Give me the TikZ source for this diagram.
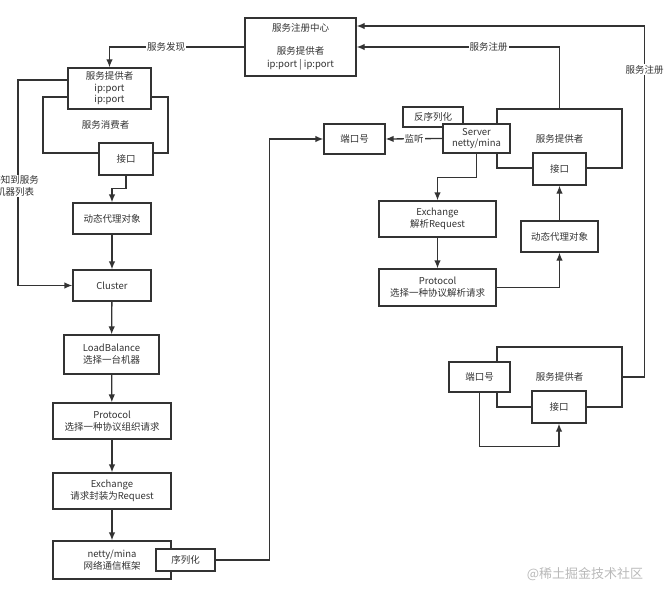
\documentclass[tikz,border=0pt]{standalone}
\usepackage{fontspec}
\setmainfont{Noto Sans CJK SC}
\usetikzlibrary{arrows.meta}
\definecolor{ink}{HTML}{333333}
\tikzset{
  box/.style={draw=ink, line width=1.3pt, fill=white, inner sep=0pt, align=center, text=ink,
    font=\fontsize{9.5}{12}\selectfont},
  frame/.style={box, fill=none},
  arr/.style={draw=ink, line width=1.3pt, -{Latex[length=8pt,width=6.5pt]}},
  lbl/.style={fill=white, inner sep=1pt, text=ink, font=\fontsize{9.5}{12}\selectfont, align=center}
}
\begin{document}
\begin{tikzpicture}[x=1pt,y=-1pt]
\useasboundingbox (0,0) rectangle (664,599);
% registry
\node[box, minimum width=111pt, minimum height=58pt, font=\fontsize{9.5}{13}\selectfont] (reg) at (300.5,47)
  {服务注册中心\\[10pt]服务提供者\\ip:port | ip:port};
% consumer side
\node[frame, minimum width=125pt, minimum height=56pt] (cons) at (105.5,125) {服务消费者};
\node[box, minimum width=83pt, minimum height=41pt, font=\fontsize{9.5}{11.5}\selectfont] (cprov) at (109.5,88.5)
  {服务提供者\\ip:port\\ip:port};
\node[box, minimum width=54pt, minimum height=32pt] (cif) at (126,159) {接口};
\node[box, minimum width=78pt, minimum height=31pt] (ldyn) at (112,218.5) {动态代理对象};
\node[box, minimum width=78pt, minimum height=31pt] (cluster) at (112,285.5) {Cluster};
\node[box, minimum width=95pt, minimum height=39pt] (lb) at (111.5,354.5) {LoadBalance\\选择一台机器};
\node[box, minimum width=118pt, minimum height=36pt] (lproto) at (112,421) {Protocol\\选择一种协议组织请求};
\node[box, minimum width=118pt, minimum height=36pt] (lexch) at (112,491) {Exchange\\请求封装为Request};
\node[box, minimum width=118pt, minimum height=38pt] (lnetty) at (112,560) {netty/mina\\网络通信框架};
\node[box, minimum width=59pt, minimum height=22pt] (ser) at (185.5,560) {序列化};
% server side
\node[box, minimum width=61pt, minimum height=30pt] (port1) at (354.5,139) {端口号};
\node[frame, minimum width=125pt, minimum height=59pt] (rprov) at (559.5,138.5) {服务提供者};
\node[box, minimum width=60pt, minimum height=20pt] (deser) at (433,117) {反序列化};
\node[box, minimum width=67pt, minimum height=29pt, font=\fontsize{9.5}{11.5}\selectfont] (server) at (476.5,138.5) {Server\\netty/mina};
\node[box, minimum width=53pt, minimum height=32pt] (rif) at (559.5,169) {接口};
\node[box, minimum width=117pt, minimum height=36pt] (rexch) at (437.5,219) {Exchange\\解析Request};
\node[box, minimum width=117pt, minimum height=37pt] (rproto) at (437.5,287.5) {Protocol\\选择一种协议解析请求};
\node[box, minimum width=77pt, minimum height=31pt] (rdyn) at (559.5,236.5) {动态代理对象};
% bottom right provider
\node[frame, minimum width=125pt, minimum height=60pt] (bprov) at (559.5,377) {服务提供者};
\node[box, minimum width=61pt, minimum height=30pt] (port2) at (479.5,377) {端口号};
\node[box, minimum width=54pt, minimum height=32pt] (bif) at (559,407) {接口};
% connectors
\draw[arr] (reg.west) -| node[lbl, pos=0.29] {服务发现} (cprov.north);
\draw[arr] (cif.south) -- ++(0,13) -| (ldyn.north);
\draw[arr] ([yshift=8.5pt]cprov.west) -- (18,80) |- (cluster.west);
\node[lbl] (sense) at (15,186) {感知到服务\\机器列表};
\draw[arr] (ldyn) -- (cluster);
\draw[arr] (cluster) -- (lb);
\draw[arr] (lb) -- (lproto);
\draw[arr] (lproto) -- (lexch);
\draw[arr] (lexch) -- (lnetty);
\draw[arr] (ser.east) -- ++(54,0) |- (port1.west);
\draw[arr] (server.west) -- node[lbl, pos=0.5] {监听} (port1.east);
\draw[arr] (rprov.north) |- node[lbl, pos=0.675] {服务注册} (reg.east);
\draw[arr] (bprov.east) -- ++(22,0) |- node[lbl, pos=0.438] {服务注册} ([yshift=21pt]reg.east);
\draw[arr] (server.south) -- ++(0,24) -| (rexch.north);
\draw[arr] (rexch) -- (rproto);
\draw[arr] (rproto.east) -| (rdyn.south);
\draw[arr] (rdyn) -- (rif);
\draw[arr] (port2.south) -- ++(0,54) -| (bif.south);
% watermark
\node[text=gray!55, font=\fontsize{13}{15}\selectfont, inner sep=0pt] (wm) at (585,574) {@稀土掘金技术社区};
\end{tikzpicture}
\end{document}
